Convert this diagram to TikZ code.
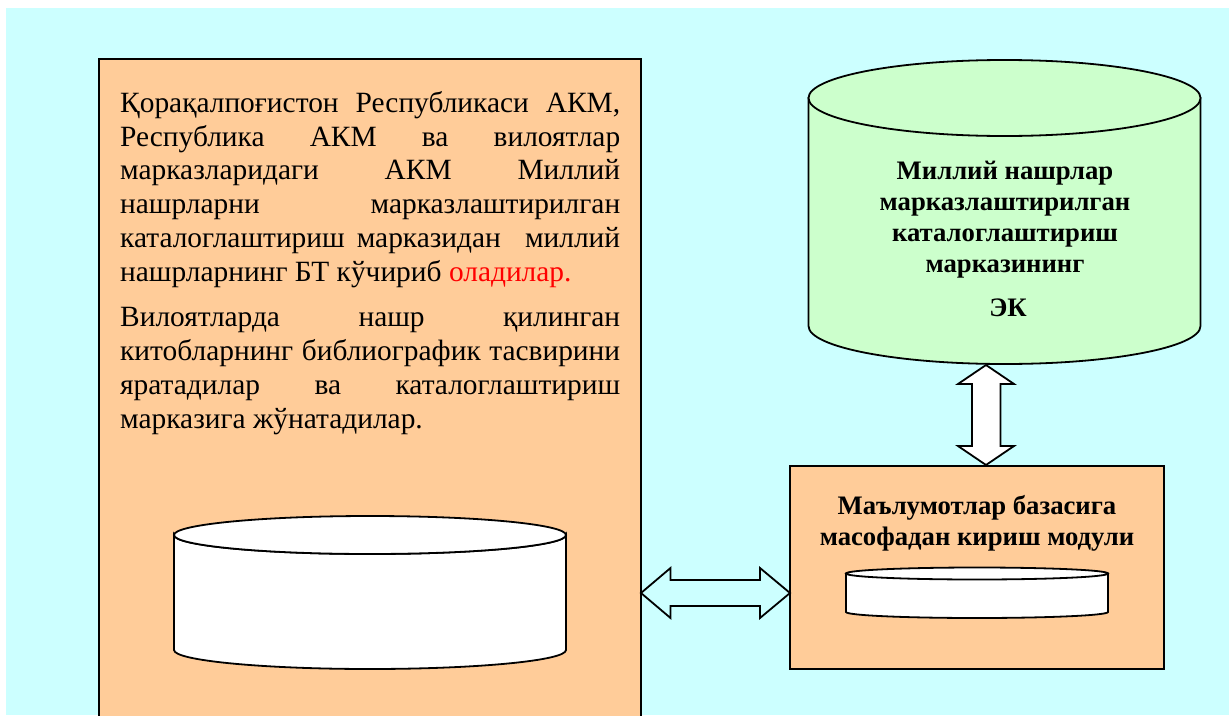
\documentclass[tikz,border=0pt]{standalone}
\usepackage{fontspec}
\setmainfont{Liberation Serif}
\definecolor{bgc}{HTML}{CCFFFF}
\definecolor{boxc}{HTML}{FFCC99}
\definecolor{cylc}{HTML}{CCFFCC}
\newcommand{\jl}[1]{\leavevmode\hbox to 500pt{\spaceskip=.25em plus 1fil\relax #1}}
\newcommand{\pl}[1]{\leavevmode\hbox{\spaceskip=.25em\relax #1}}
\tikzset{
  outl/.style={draw=black,line width=1.8pt,line join=miter},
  blk/.style={outl,fill=boxc},
  bodytext/.style={font=\fontsize{29.4}{33.8}\selectfont,anchor=north west,inner sep=0pt,text width=500pt,align=left},
  headtext/.style={font=\fontsize{26.7}{30.8}\bfseries\selectfont,align=center,inner sep=0pt,anchor=center}
}
\begin{document}
\begin{tikzpicture}[x=1pt,y=-1pt]
\useasboundingbox (0,0) rectangle (1229,715);
\fill[white] (0,0) rectangle (1229,715);
\fill[bgc] (6,8) rectangle (1229,715);
% left box
\begin{scope}
\clip (0,0) rectangle (1229,715);
\draw[blk] (99,59) rectangle (641,730);
\end{scope}
\node[bodytext] (para1) at (120,91) {%
\jl{Қорақалпоғистон Республикаси АКМ,}\\
\jl{Республика АКМ ва вилоятлар}\\
\jl{марказларидаги АКМ Миллий}\\
\jl{нашрларни марказлаштирилган}\\
\jl{каталоглаштириш\hspace{12pt}марказидан\hfill миллий}\\
\pl{нашрларнинг БТ кўчириб \textcolor{red}{оладилар.}}};
\node[bodytext] (para2) at (120,307.5) {%
\jl{Вилоятларда нашр қилинган}\\
\jl{китобларнинг библиографик тасвирини}\\
\jl{яратадилар ва каталоглаштириш}\\
\pl{марказига жўнатадилар.}};
% big white cylinder
\draw[outl,fill=white] (174,535) -- (174,650) arc[start angle=180,end angle=0,x radius=196,y radius=19] -- (566,535) arc[start angle=0,end angle=180,x radius=196,y radius=19] -- cycle;
\draw[outl,fill=white] (370,535) ellipse[x radius=196,y radius=19];
% green cylinder
\draw[outl,fill=cylc] (808.5,98) -- (808.5,326) arc[start angle=180,end angle=0,x radius=196,y radius=38] -- (1200.5,98) -- cycle;
\draw[outl,fill=cylc] (1004.5,98) ellipse[x radius=196,y radius=38];
\node[headtext] (green) at (1005,219.5) {Миллий нашрлар\\марказлаштирилган\\каталоглаштириш\\марказининг};
\node[headtext] (ek) at (1008,308) {ЭК};
% module box
\draw[blk] (790,466) rectangle (1164,669);
\node[headtext] (mod) at (977,523.5) {Маълумотлар базасига\\масофадан кириш модули};
\draw[outl,fill=white] (846,573.5) -- (846,612) arc[start angle=180,end angle=0,x radius=131,y radius=6] -- (1108,573.5) -- cycle;
\draw[outl,fill=white] (977,573.5) ellipse[x radius=131,y radius=6];
% arrows
\draw[outl,fill=white] (986,365) -- (1014,384) -- (1000.5,384) -- (1000.5,446) -- (1014,446) -- (986,465) -- (958,446) -- (972,446) -- (972,384) -- (958,384) -- cycle;
\draw[outl] (641,593) -- (670.5,568) -- (670.5,580) -- (760,580) -- (760,568) -- (790,593) -- (760,618) -- (760,606) -- (670.5,606) -- (670.5,618) -- cycle;
\end{tikzpicture}
\end{document}
